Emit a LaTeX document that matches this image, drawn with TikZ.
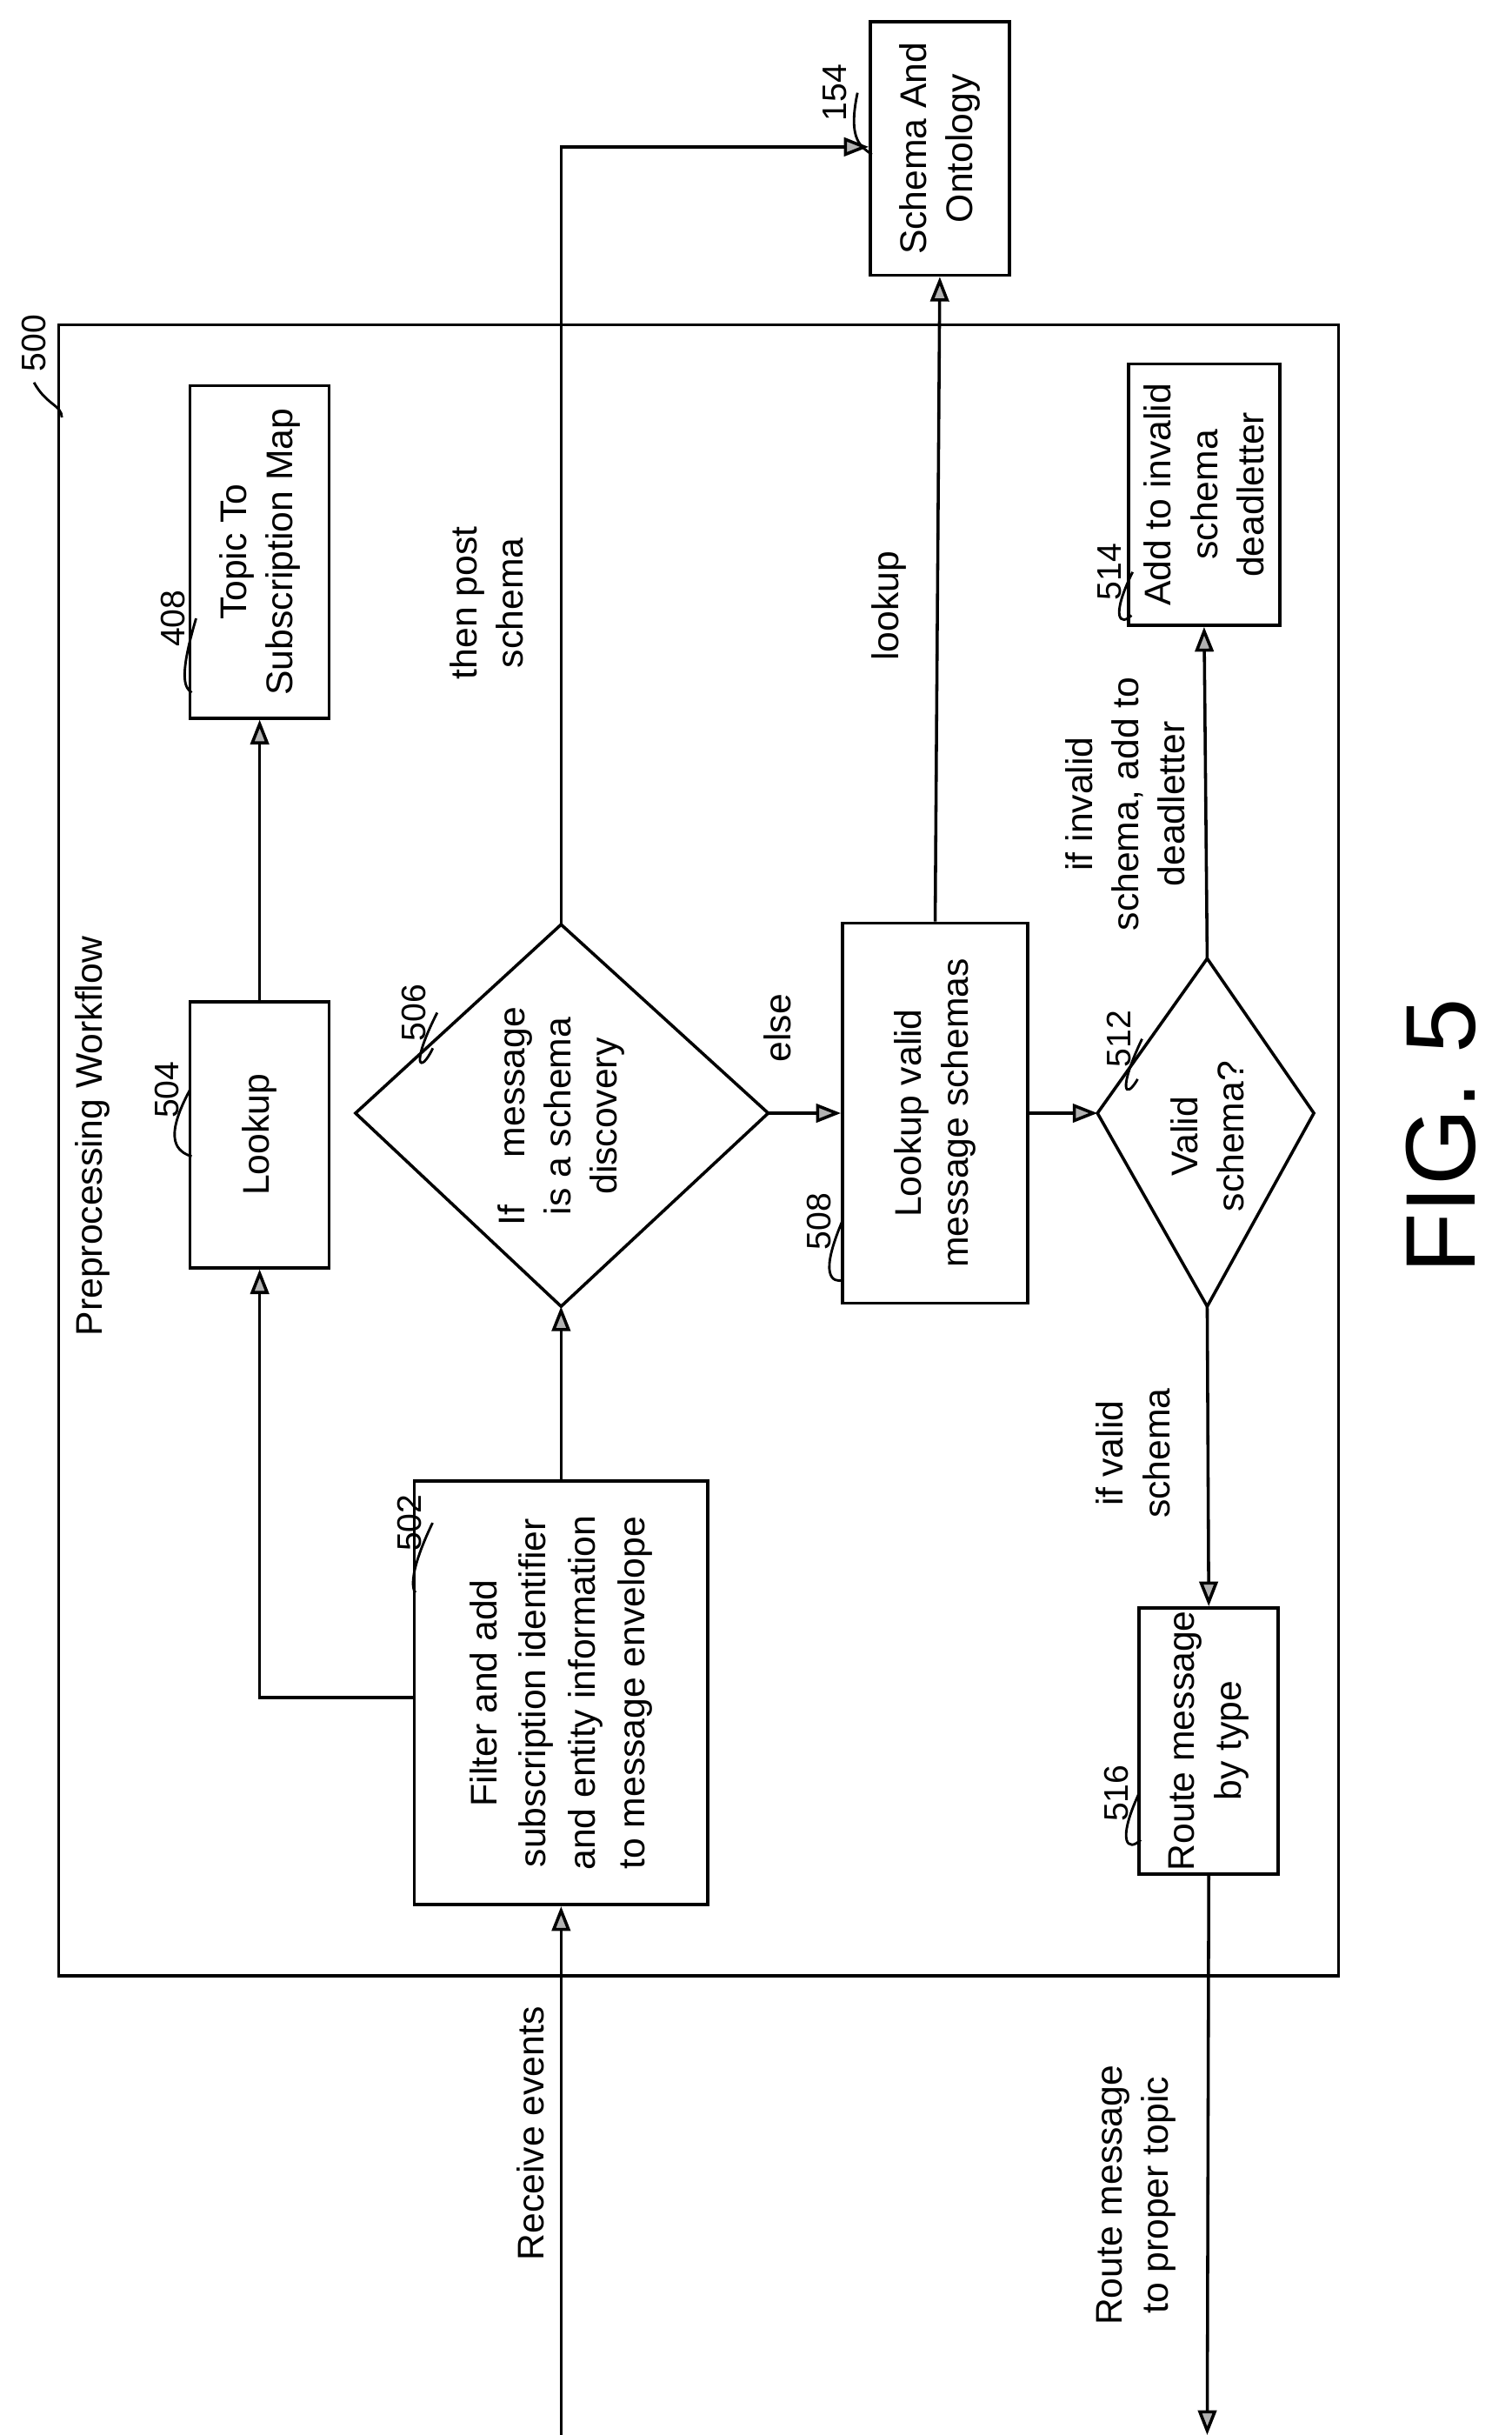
\documentclass[tikz,border=0pt]{standalone}
\usepackage{fontspec}
\setmainfont{Liberation Sans}
\usetikzlibrary{arrows.meta}
\begin{document}
\begin{tikzpicture}[x=0.5pt,y=-0.5pt,
  box/.style={draw,line width=1pt,rotate=90,align=center,inner sep=1pt,font=\fontsize{12}{15}\selectfont},
  txt/.style={rotate=90,align=center,font=\fontsize{12}{15}\selectfont},
  lbl/.style={rotate=90,font=\fontsize{11}{13}\selectfont},
  ln/.style={line width=1pt},
  arr/.style={line width=1pt,-{Triangle[length=8pt,width=6pt,fill=gray!60]}},
  lead/.style={line width=0.8pt}]
\useasboundingbox (0,0) rectangle (978,1575);
% outer box
\node[draw,line width=1pt,minimum width=534pt,minimum height=414pt,rotate=90] (w) at (452,744) {};
\node[txt] (wt) at (60,735) {Preprocessing Workflow};
\node[lbl] (l500) at (22,222) {500};
\draw[lead] (l500.west) .. controls (30,262) and (40,262) .. (40,270);
% boxes
\node[box,minimum width=82pt,minimum height=45pt] (b154) at (608,96) {Schema And\\Ontology};
\node[box,minimum width=107.5pt,minimum height=45pt] (b408) at (168,357) {Topic To\\Subscription Map};
\node[box,minimum width=86pt,minimum height=45pt] (b504) at (168,734) {Lookup};
\node[box,minimum width=137pt,minimum height=95pt,font=\fontsize{12}{16}\selectfont] (b502) at (363,1095) {Filter and add\\subscription identifier\\and entity information\\to message envelope};
\node[box,minimum width=123pt,minimum height=60pt] (b508) at (605,720) {Lookup valid\\message schemas};
\node[box,minimum width=84.5pt,minimum height=49pt] (b514) at (779,320) {Add to invalid\\schema\\deadletter};
\node[box,minimum width=86pt,minimum height=45pt] (b516) at (782,1126) {Route message\\by type};
% diamonds
\coordinate (d6t) at (363,598); \coordinate (d6b) at (363,845);
\coordinate (d6l) at (230,720); \coordinate (d6r) at (497,720);
\draw[ln] (d6t)--(d6r)--(d6b)--(d6l)--cycle;
\node[txt] (t506) at (363,722) {If \quad message\\is a schema\\discovery};
\coordinate (d2t) at (781,620); \coordinate (d2b) at (781,845);
\coordinate (d2l) at (710,720); \coordinate (d2r) at (850,720);
\draw[ln] (d2t)--(d2r)--(d2b)--(d2l)--cycle;
\node[txt] (t512) at (781,735) {Valid\\schema?};
% ref labels
\node[lbl] (l154) at (540,60) {154};
\draw[lead] (l154.south) .. controls (548,92) and (558,95) .. (564,100);
\node[lbl] (l408) at (112,400) {408};
\draw[lead] (l408.south) .. controls (115,440) and (120,445) .. (124,448);
\node[lbl] (l504) at (108,705) {504};
\draw[lead] (l504.south) .. controls (105,738) and (115,745) .. (124,748);
\node[lbl] (l502) at (265,985) {502};
\draw[lead] (l502.south) .. controls (262,1022) and (268,1030) .. (269,1030);
\node[lbl] (l506) at (268,655) {506};
\draw[lead] (l506.south) .. controls (265,690) and (272,695) .. (280,678);
\node[lbl] (l508) at (530,790) {508};
\draw[lead] (l508.south) .. controls (530,825) and (538,830) .. (546,828);
\node[lbl] (l512) at (724,672) {512};
\draw[lead] (l512.south) .. controls (723,705) and (728,712) .. (736,698);
\node[lbl] (l514) at (718,370) {514};
\draw[lead] (l514.south) .. controls (718,400) and (725,405) .. (732,398);
\node[lbl] (l516) at (722,1160) {516};
\draw[lead] (l516.south) .. controls (722,1192) and (730,1198) .. (738,1190);
% external coords
\coordinate (inS) at (363,1575);
\coordinate (outE) at (781,1575);
\coordinate (c1) at (168,1098);
\coordinate (c2) at (363,95);
% connectors
\draw[arr] (inS) -- (b502.west);
\node[txt] (rcv) at (343,1380) {Receive events};
\draw[arr] (b502.north |- c1) -- (c1) -- (b504.west);
\draw[arr] (b504.east) -- (b408.west);
\draw[arr] (b502.east) -- (d6b);
\draw[arr] (d6t) -- (c2) -- (b154.north |- c2);
\node[txt] (tp) at (315,390) {then post\\schema};
\draw[arr] (d6r) -- (b508.north);
\node[txt] (te) at (503,665) {else};
\draw[arr] (b508.east) -- (b154.west);
\node[txt] (tl) at (575,392) {lookup};
\draw[arr] (b508.south) -- (d2l);
\draw[arr] (d2t) -- (b514.west);
\node[txt] (ti) at (728,520) {if invalid\\schema, add to\\deadletter};
\draw[arr] (d2b) -- (b516.east);
\node[txt] (tv) at (733,940) {if valid\\schema};
\draw[arr] (b516.west) -- (outE);
\node[txt] (tr) at (735,1420) {Route message\\to proper topic};
\node[rotate=90,font=\fontsize{32}{36}\selectfont] (fig) at (932,735) {FIG. 5};
\end{tikzpicture}
\end{document}
